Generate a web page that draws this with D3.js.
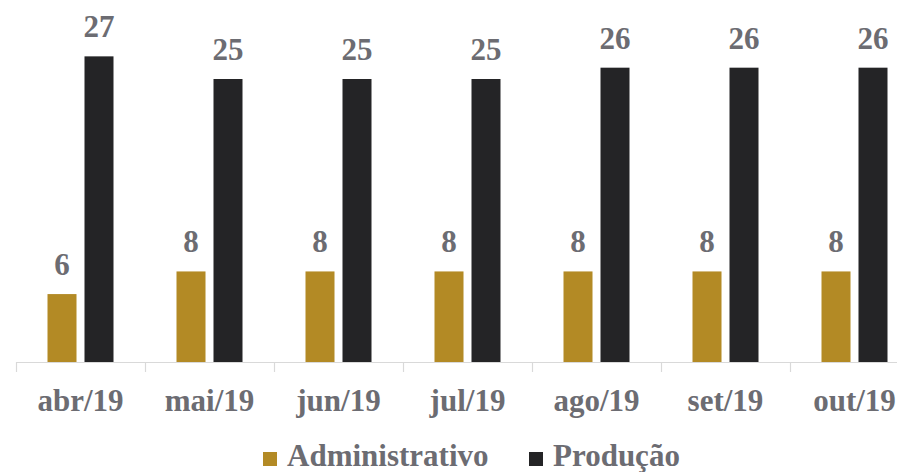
<!DOCTYPE html>
<html>
<head>
<meta charset="utf-8">
<script src="https://cdn.jsdelivr.net/npm/d3@7"></script>
<style>
  body { margin: 0; background: #fff; }
  svg text { font-family: "Liberation Serif", "Times New Roman", serif; font-weight: bold; fill: #6c6c72; }
</style>
</head>
<body>
<div id="chart"></div>
<script>
// data
const months = ["abr/19", "mai/19", "jun/19", "jul/19", "ago/19", "set/19", "out/19"];
const seriesNames = ["Administrativo", "Produção"];
const administrativo = [6, 8, 8, 8, 8, 8, 8];
const producao = [27, 25, 25, 25, 26, 26, 26];
const seriesColors = ["#b38a25", "#242426"];

const width = 897, height = 472;
const axisY = 362;

const svg = d3.select("#chart").append("svg")
    .attr("width", width)
    .attr("height", height);

// the plot runs past the right edge, like the original
const x = d3.scaleBand()
    .domain(months)
    .range([16, 16 + months.length * 129])
    .paddingInner(0)
    .paddingOuter(0);

const xSeries = d3.scaleBand()
    .domain(seriesNames)
    .range([-33, 33])
    .paddingInner(0.216);

const y = d3.scaleLinear()
    .domain([0, 30])
    .range([axisY, axisY - 30 * 11.32]);

const rows = months.map((m, i) => ({
    month: m,
    values: [administrativo[i], producao[i]]
}));

// axis line + tick marks at category boundaries
const axisG = svg.append("g");
axisG.append("line")
    .attr("x1", x.range()[0]).attr("x2", x.range()[1])
    .attr("y1", axisY + 0.5).attr("y2", axisY + 0.5)
    .attr("stroke", "#d9d9d9").attr("stroke-width", 1.2);

axisG.selectAll("line.tick")
    .data(months.concat(["_end"]))
    .enter().append("line")
    .attr("class", "tick")
    .attr("x1", (d, i) => Math.round(x.range()[0] + i * x.step()) + 0.5)
    .attr("x2", (d, i) => Math.round(x.range()[0] + i * x.step()) + 0.5)
    .attr("y1", axisY)
    .attr("y2", axisY + 10)
    .attr("stroke", "#d9d9d9").attr("stroke-width", 1.2);

axisG.selectAll("text.month")
    .data(months)
    .enter().append("text")
    .attr("class", "month")
    .attr("x", d => x(d) + x.bandwidth() / 2)
    .attr("y", 411)
    .attr("text-anchor", "middle")
    .attr("font-size", 31)
    .text(d => d);

// bars
const groups = svg.selectAll("g.group")
    .data(rows)
    .enter().append("g")
    .attr("class", "group")
    .attr("transform", d => `translate(${x(d.month) + x.bandwidth() / 2},0)`);

groups.selectAll("rect")
    .data(d => d.values.map((v, i) => ({ key: seriesNames[i], value: v, idx: i })))
    .enter().append("rect")
    .attr("x", d => xSeries(d.key))
    .attr("width", xSeries.bandwidth())
    .attr("y", d => y(d.value))
    .attr("height", d => axisY - y(d.value))
    .attr("fill", d => seriesColors[d.idx]);

groups.selectAll("text.value")
    .data(d => d.values.map((v, i) => ({ key: seriesNames[i], value: v })))
    .enter().append("text")
    .attr("class", "value")
    .attr("x", d => xSeries(d.key) + xSeries.bandwidth() / 2)
    .attr("y", d => y(d.value) - 19)
    .attr("text-anchor", "middle")
    .attr("font-size", 31)
    .text(d => d.value);

// legend
const legendItems = [
    { name: seriesNames[0], color: seriesColors[0], x: 263 },
    { name: seriesNames[1], color: seriesColors[1], x: 529 }
];

const legend = svg.selectAll("g.legend")
    .data(legendItems)
    .enter().append("g")
    .attr("class", "legend")
    .attr("transform", d => `translate(${d.x},0)`);

legend.append("rect")
    .attr("x", 0).attr("y", 452)
    .attr("width", 14).attr("height", 14)
    .attr("fill", d => d.color);

legend.append("text")
    .attr("x", 24)
    .attr("y", 466)
    .attr("font-size", 31)
    .text(d => d.name);
</script>
</body>
</html>
